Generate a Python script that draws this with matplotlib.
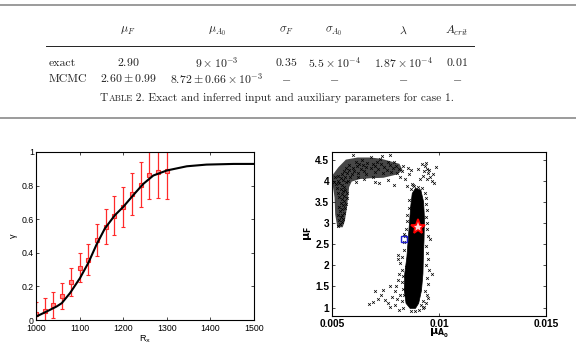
import matplotlib

matplotlib.use("Agg")
import matplotlib.pyplot as plt
from matplotlib.ticker import FormatStrFormatter

plt.rcParams["font.family"] = ["Liberation Sans", "DejaVu Sans"]

W, H = 576, 348

# ---- table ----
col_headers = [r"$\mu_F$", r"$\mu_{A_0}$", r"$\sigma_F$", r"$\sigma_{A_0}$", r"$\lambda$", r"$A_{crit}$"]
row_names = ["exact", "MCMC"]
row_exact = [r"$2.90$", r"$9\times10^{-3}$", r"$0.35$", r"$5.5\times10^{-4}$", r"$1.87\times10^{-4}$", r"$0.01$"]
row_mcmc = [r"$2.60\pm0.99$", r"$8.72\pm0.66\times10^{-3}$", r"$-$", r"$-$", r"$-$", r"$-$"]
caption = "Exact and inferred input and auxiliary parameters for case 1."

# ---- left panel: gamma vs R_x ----
rx_obs = [1000, 1020, 1040, 1060, 1080, 1100, 1120, 1140, 1160, 1180, 1200, 1220, 1240, 1260, 1280, 1300]
gamma_obs = [0.036, 0.054, 0.089, 0.145, 0.224, 0.312, 0.36, 0.477, 0.556, 0.622, 0.671, 0.75, 0.804, 0.866, 0.88, 0.886]
gamma_err = [0.07, 0.075, 0.076, 0.077, 0.083, 0.085, 0.09, 0.097, 0.105, 0.115, 0.12, 0.127, 0.134, 0.145, 0.152, 0.165]
rx_fit = [1000, 1024, 1047, 1059, 1078, 1101, 1120, 1139, 1158, 1181, 1200, 1223, 1246, 1269, 1300, 1346, 1391, 1453, 1500]
gamma_fit = [0.02, 0.05, 0.08, 0.10, 0.16, 0.25, 0.34, 0.45, 0.545, 0.624, 0.673, 0.743, 0.81, 0.86, 0.89, 0.915, 0.925, 0.929, 0.929]

# ---- right panel: MCMC samples ----
# dense core of the chain (outline)
core_x = [0.00865, 0.00846, 0.00838, 0.00840, 0.00850, 0.00856, 0.00862, 0.00868, 0.00875, 0.00890,
          0.00915, 0.00928, 0.00932, 0.00930, 0.00927, 0.00925, 0.00918, 0.00905, 0.00890]
core_y = [0.98, 1.1, 1.4, 1.8, 2.2, 2.6, 3.0, 3.4, 3.7, 3.82,
          3.78, 3.5, 3.1, 2.6, 2.2, 1.8, 1.4, 1.1, 0.98]
# upper arc of the chain (outline)
arc_x = [0.00525, 0.00515, 0.00512, 0.00502, 0.00505, 0.00530, 0.00565, 0.00620, 0.00680, 0.00730,
         0.00780, 0.00815, 0.00830, 0.00805, 0.00740, 0.00680, 0.00630, 0.00592, 0.00580, 0.00575,
         0.00568, 0.00560, 0.00550]
arc_y = [2.90, 3.2, 3.6, 3.95, 4.15, 4.32, 4.50, 4.55, 4.55, 4.52,
         4.45, 4.40, 4.25, 4.15, 4.07, 4.06, 4.04, 3.98, 3.85, 3.6,
         3.3, 3.05, 2.90]

sample_x = [
    # left arm
    0.00530, 0.00538, 0.00545, 0.00532, 0.00550, 0.00540, 0.00528, 0.00548, 0.00556, 0.00538,
    0.00546, 0.00560, 0.00535, 0.00552, 0.00564, 0.00542, 0.00556, 0.00548, 0.00568, 0.00535,
    0.00558, 0.00545, 0.00570, 0.00530, 0.00552, 0.00562, 0.00540, 0.00525, 0.00556, 0.00545,
    0.00518, 0.00535, 0.00565, 0.00510, 0.00528, 0.00550, 0.00575, 0.00540, 0.00515, 0.00562, 0.00585,
    # top band
    0.00530, 0.00548, 0.00570, 0.00595, 0.00555, 0.00580, 0.00605, 0.00620, 0.00598, 0.00615,
    0.00635, 0.00650, 0.00625, 0.00645, 0.00660, 0.00680, 0.00665, 0.00690, 0.00700, 0.00715,
    0.00710, 0.00730, 0.00745, 0.00725, 0.00760, 0.00770, 0.00785, 0.00755, 0.00800, 0.00815,
    0.00790, 0.00825, 0.00805, 0.00830, 0.00610, 0.00640, 0.00600, 0.00680, 0.00735, 0.00770,
    0.00580, 0.00565, 0.00660, 0.00700, 0.00740, 0.00775, 0.00820, 0.00690, 0.00620, 0.00650,
    # strays under the band
    0.00700, 0.00720, 0.00760, 0.00790, 0.00850, 0.00610, 0.00840, 0.00860, 0.00855, 0.00870,
    # right cluster
    0.00920, 0.00935, 0.00945, 0.00930, 0.00950, 0.00960, 0.00945, 0.00965, 0.00975, 0.00925,
    0.00985, 0.00900, 0.00910, 0.00940, 0.00955, 0.00970,
    # fringe of the core
    0.00835, 0.00830, 0.00828, 0.00832, 0.00826, 0.00820, 0.00810, 0.00808, 0.00825, 0.00835,
    0.00838, 0.00840, 0.00845, 0.00850, 0.00852, 0.00858, 0.00862, 0.00870, 0.00885,
    0.00935, 0.00938, 0.00940, 0.00945, 0.00938, 0.00942, 0.00945, 0.00948, 0.00960, 0.00940,
    0.00946, 0.00950, 0.00940, 0.00955, 0.00967, 0.00944, 0.00950, 0.00936, 0.00945, 0.00925,
    0.00915, 0.00890, 0.00870, 0.00880, 0.00900, 0.00920, 0.00938, 0.00950, 0.00838, 0.00845,
    0.00860, 0.00925, 0.00932, 0.00905, 0.00872,
    # lower-left tail
    0.00671, 0.00702, 0.00717, 0.00740, 0.00749, 0.00760, 0.00772, 0.00795, 0.00811, 0.00780,
    0.00795, 0.00800, 0.00810, 0.00815, 0.00820, 0.00825, 0.00830, 0.00805, 0.00730, 0.00690, 0.00770,
]
sample_y = [
    2.92, 2.98, 3.02, 3.06, 3.10, 3.14, 3.18, 3.20, 3.24, 3.28,
    3.32, 3.35, 3.38, 3.42, 3.45, 3.48, 3.52, 3.56, 3.58, 3.62,
    3.64, 3.68, 3.70, 3.72, 3.75, 3.78, 3.80, 3.84, 3.86, 3.90,
    3.92, 3.95, 3.96, 3.98, 4.00, 4.02, 4.00, 4.06, 4.08, 4.10, 4.08,
    4.12, 4.16, 4.18, 4.15, 4.22, 4.25, 4.22, 4.18, 4.30, 4.34,
    4.28, 4.24, 4.40, 4.38, 4.32, 4.30, 4.42, 4.40, 4.35, 4.28,
    4.45, 4.40, 4.33, 4.52, 4.45, 4.38, 4.30, 4.25, 4.35, 4.28,
    4.45, 4.22, 4.18, 4.35, 4.45, 4.50, 4.62, 4.55, 4.58, 4.62,
    4.38, 4.30, 4.16, 4.20, 4.18, 4.20, 4.10, 4.10, 4.10, 4.05,
    3.98, 3.94, 4.02, 3.90, 3.88, 3.98, 4.05, 4.15, 4.30, 4.25,
    4.40, 4.35, 4.28, 4.22, 4.18, 4.10, 4.05, 4.00, 3.95, 4.12,
    4.32, 4.28, 4.05, 4.42, 4.25, 4.15,
    1.30, 1.45, 1.60, 1.75, 1.90, 2.05, 2.15, 2.25, 2.20, 2.35,
    2.55, 2.70, 2.85, 3.05, 3.20, 3.35, 3.55, 3.80, 3.88,
    3.72, 3.60, 3.45, 3.30, 3.15, 3.00, 2.85, 2.70, 2.62, 2.45,
    2.30, 2.15, 2.00, 1.90, 1.80, 1.70, 1.55, 1.40, 1.30, 1.15,
    1.05, 0.93, 0.92, 3.90, 3.86, 3.82, 1.10, 1.22, 2.75, 1.95,
    1.20, 0.98, 1.02, 0.95, 3.92,
    1.08, 1.38, 1.20, 1.42, 1.18, 1.10, 1.02, 1.06, 0.95, 1.25,
    1.38, 1.50, 1.65, 1.80, 1.30, 1.15, 1.00, 1.20, 1.30, 1.12, 1.50,
]
exact_point = (0.0090, 2.90)
mcmc_point = (0.00837, 2.62)


def fx(x):
    return x / W


def fy(y):
    return 1 - y / H


fig = plt.figure(figsize=(W / 100, H / 100), dpi=100)

# rules of the table
fig.add_artist(plt.Line2D([0, 1], [fy(5), fy(5)], color="#8a8a8a", lw=1.2))
fig.add_artist(plt.Line2D([0, 1], [fy(118), fy(118)], color="#8a8a8a", lw=1.2))
fig.add_artist(plt.Line2D([fx(46), fx(474)], [fy(46), fy(46)], color="#222222", lw=0.7))

col_centers = [128, 217, 286, 334, 403, 457]
tkw = dict(ha="center", va="center", fontsize=8.5, math_fontfamily="cm", color="#222222")
for cx, hdr, v1, v2 in zip(col_centers, col_headers, row_exact, row_mcmc):
    fig.text(fx(cx), fy(31), hdr, **tkw)
    fig.text(fx(cx), fy(63), v1, **tkw)
    fig.text(fx(cx), fy(79), v2, **tkw)
for name, yy in zip(row_names, [63, 79]):
    fig.text(fx(49), fy(yy), name, ha="left", va="center", fontsize=8.5,
             family="cmr10", color="#222222")

# caption with small-caps "Table"
r = fig.canvas.get_renderer()
xpos = fx(100)
for piece, size in [("T", 8.2), ("ABLE", 6.4), (" 2. " + caption, 8.2)]:
    t = fig.text(xpos, fy(101), piece, ha="left", va="baseline", fontsize=size,
                 family="cmr10", color="#222222")
    xpos += t.get_window_extent(r).width / W

# left panel
ax1 = fig.add_axes([fx(36), fy(320), (254 - 36) / W, (320 - 152) / H])
ax1.plot(rx_fit, gamma_fit, color="black", lw=1.5, zorder=3)
ax1.errorbar(rx_obs, gamma_obs, yerr=gamma_err, fmt="s", color="#ff2a2a", ms=3.2,
             mfc="#ff8c8c", mec="#ff2a2a", mew=0.8, elinewidth=0.9, capsize=1.5,
             capthick=0.8, zorder=2)
ax1.set_xlim(1000, 1500)
ax1.set_ylim(0, 1)
ax1.set_xticks([1000, 1100, 1200, 1300, 1400, 1500])
ax1.set_yticks([0, 0.2, 0.4, 0.6, 0.8, 1])
ax1.yaxis.set_major_formatter(FormatStrFormatter("%g"))
ax1.tick_params(direction="in", top=True, right=True, labelsize=6.3, length=2.5,
                width=0.5)
ax1.tick_params(axis="x", pad=3)
ax1.tick_params(axis="y", pad=1.5)
ax1.set_xlabel(r"R$_\mathrm{x}$", fontsize=6.5, labelpad=0, math_fontfamily="dejavusans")
ax1.set_ylabel("γ", fontsize=6.5, labelpad=3)
for s in ax1.spines.values():
    s.set_linewidth(0.8)

# right panel
ax2 = fig.add_axes([fx(332), fy(316), (546 - 332) / W, (316 - 152) / H])
ax2.fill(arc_x, arc_y, color="black", alpha=0.72, lw=0, zorder=1)
ax2.fill(core_x, core_y, color="black", lw=0.5, zorder=2)
ax2.plot(sample_x, sample_y, "x", color="black", ms=2.0, mew=0.5, zorder=2)
ax2.plot(*exact_point, marker="*", ms=11, mfc="#ffd6d6", mec="red", mew=1.3, zorder=4)
ax2.plot(*mcmc_point, marker="s", ms=5, mfc="none", mec="#1f1fd0", mew=1.0, zorder=4)
ax2.set_xlim(0.005, 0.015)
ax2.set_ylim(0.8, 4.68)
ax2.set_xticks([0.005, 0.01, 0.015])
ax2.set_yticks([1, 1.5, 2, 2.5, 3, 3.5, 4, 4.5])
ax2.xaxis.set_major_formatter(FormatStrFormatter("%g"))
ax2.yaxis.set_major_formatter(FormatStrFormatter("%g"))
ax2.tick_params(direction="in", top=True, right=True, labelsize=7.3, length=2.5,
                width=0.5, pad=2)
for lab in ax2.get_xticklabels() + ax2.get_yticklabels():
    lab.set_fontweight("bold")
ax2.set_xlabel(r"$\mathbf{\mu_{A_0}}$", fontsize=8, labelpad=-1, math_fontfamily="dejavusans")
ax2.set_ylabel(r"$\mathbf{\mu_F}$", fontsize=8, labelpad=1, math_fontfamily="dejavusans")
for s in ax2.spines.values():
    s.set_linewidth(0.8)

fig.savefig("out.png", dpi=100)
